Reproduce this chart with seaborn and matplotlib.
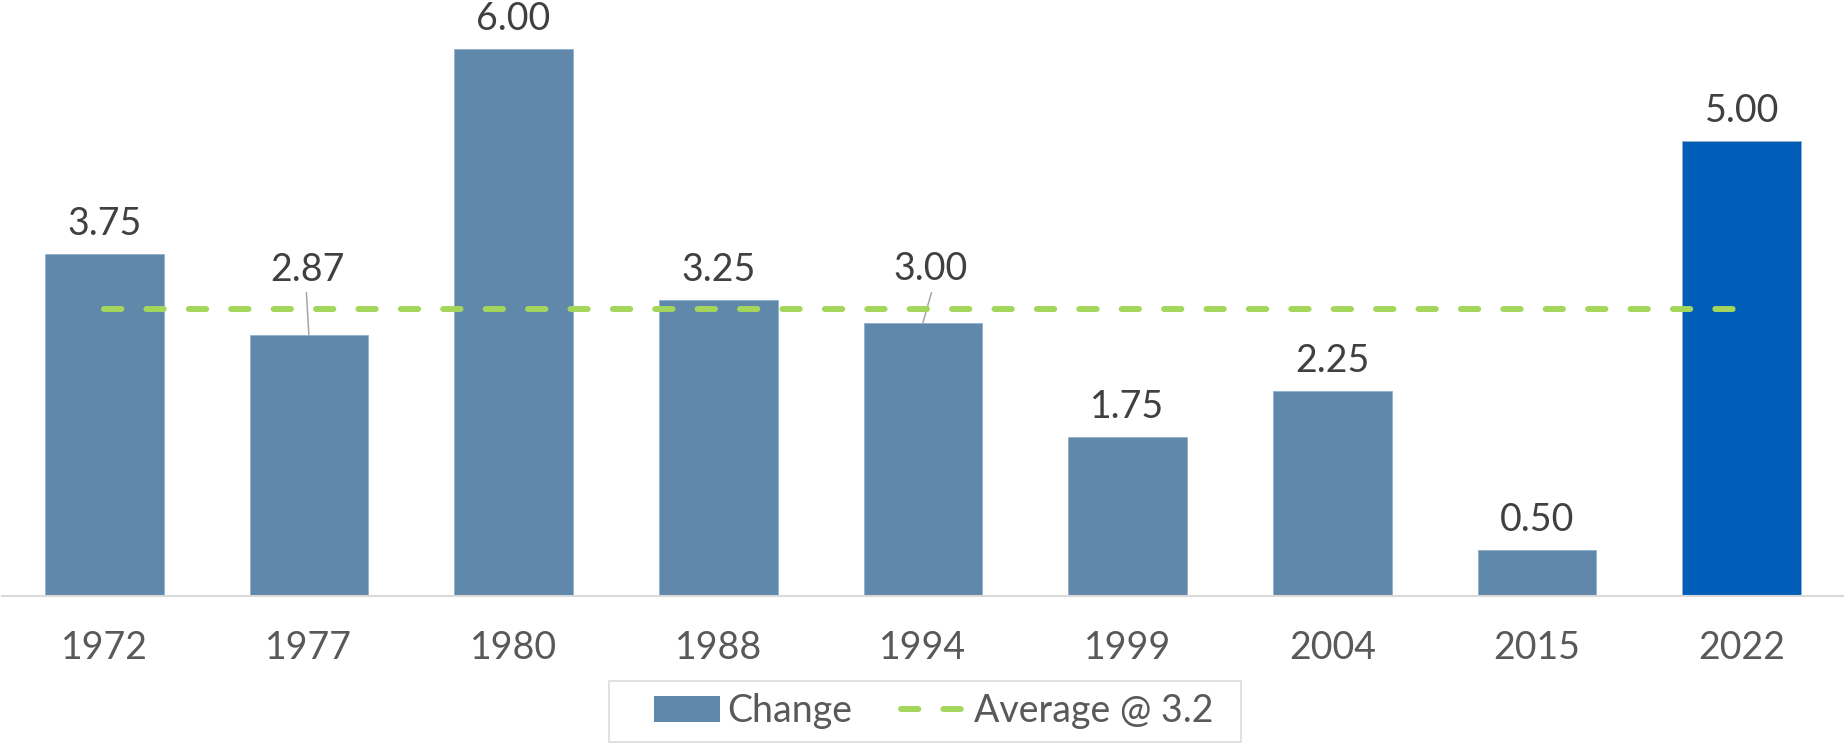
import matplotlib
matplotlib.use("Agg")
import matplotlib.pyplot as plt
import seaborn as sns
import pandas as pd
from matplotlib.patches import Patch, Rectangle
from matplotlib.lines import Line2D

# ---- data ----
years = ["1972", "1977", "1980", "1988", "1994", "1999", "2004", "2015", "2022"]
changes = [3.75, 2.87, 6.00, 3.25, 3.00, 1.75, 2.25, 0.50, 5.00]
average_line = 3.15
series_labels = ["Change", "Average @ 3.2"]

# ---- styles ----
BAR = "#6088ab"
BAR_LAST = "#005eb8"
GREEN = "#a5d65c"
LABEL_C = "#404040"
TICK_C = "#595959"
PX = 0.72  # points per pixel at dpi 100
W, H = 1844, 743

sns.set_theme(style="white")
plt.rcParams["font.family"] = ["Lato", "DejaVu Sans"]

fig = plt.figure(figsize=(W / 100, H / 100), dpi=100)
ax = fig.add_axes([0.001, 0.1978, 0.999, 0.797])

df = pd.DataFrame({"year": years, "change": changes})
palette = {y: (BAR_LAST if i == len(years) - 1 else BAR) for i, y in enumerate(years)}
sns.barplot(data=df, x="year", y="change", hue="year", palette=palette,
            legend=False, width=0.58, ax=ax, saturation=1,
            edgecolor="#8fb0cc", linewidth=0.6)

xs = list(range(len(years)))
ax.plot(xs, [average_line] * len(xs), color=GREEN, lw=4.3,
        linestyle=(0, (2.9, 4.2)), dash_capstyle="round", zorder=5)

# value labels (offsets in px)
label_offsets = {1: (-1.5, 54), 4: (8, 43)}
leader_tops = {1: (-2.5, 42), 4: (8.5, 30)}
for i, v in enumerate(changes):
    dx, dy = label_offsets.get(i, (0, 19))
    ax.annotate(f"{v:.2f}", xy=(i, v), xytext=(dx * PX, dy * PX),
                textcoords="offset points", ha="center", va="baseline",
                fontsize=27, color=LABEL_C)
    if i in leader_tops:
        lx, ly = leader_tops[i]
        ax.annotate("", xy=(i, v), xytext=(lx * PX, ly * PX),
                    textcoords="offset points",
                    arrowprops=dict(arrowstyle="-", color="#a6a6a6", lw=1.1,
                                    shrinkA=0, shrinkB=0))

ax.set_xlim(-0.5, len(years) - 0.5)
ax.set_ylim(0, 6.5)
ax.set_yticks([])
ax.set_xlabel("")
ax.set_ylabel("")
for s in ["top", "left", "right"]:
    ax.spines[s].set_visible(False)
ax.spines["bottom"].set_color("#d9d9d9")
ax.spines["bottom"].set_linewidth(1.5)
ax.tick_params(axis="x", length=0, pad=24.5, labelsize=27, labelcolor=TICK_C)

handles = [Patch(facecolor=BAR, edgecolor="none"),
           Line2D([0], [0], color=GREEN, lw=4.3, linestyle=(0, (2.9, 4.2)),
                  dash_capstyle="round")]
leg = fig.legend(handles, series_labels, loc="center left",
                 bbox_to_anchor=(654 / W, 1 - 711 / H), ncol=2,
                 frameon=False, fontsize=27, borderaxespad=0.0,
                 handlelength=1.75, handleheight=0.72, handletextpad=0.2,
                 columnspacing=1.3, borderpad=0.0, labelcolor=TICK_C)
# legend frame
fig.patches.append(Rectangle((609 / W, 1 / H), 632 / W, 61 / H,
                             transform=fig.transFigure, fill=False,
                             edgecolor="#d9d9d9", lw=1.1))

fig.savefig("out.png", dpi=100, facecolor="white")
